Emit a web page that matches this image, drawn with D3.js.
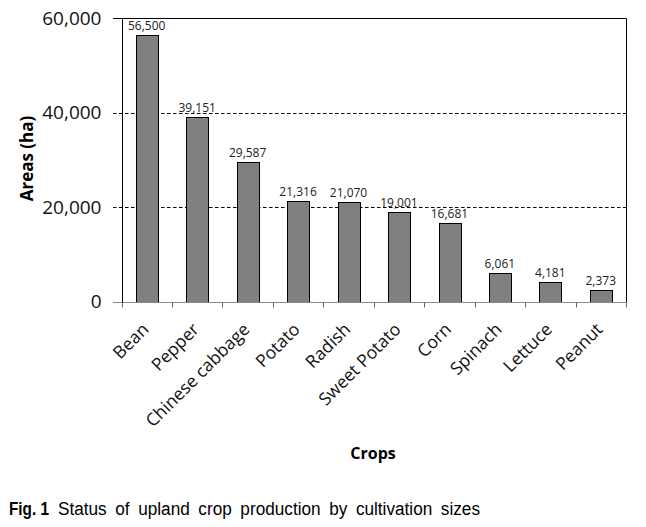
<!DOCTYPE html>
<html><head><meta charset="utf-8">
<script src="https://cdn.jsdelivr.net/npm/d3@7"></script>
<style>body{margin:0;background:#fff}svg{display:block}</style>
</head><body>
<script>
const categories = ["Bean","Pepper","Chinese cabbage","Potato","Radish","Sweet Potato","Corn","Spinach","Lettuce","Peanut"];
const values = [56500,39151,29587,21316,21070,19001,16681,6061,4181,2373];
const yTicks = [0,20000,40000,60000];
const yTitle = "Areas (ha)";
const xTitle = "Crops";
const captionBold = "Fig. 1";
const captionText = "Status of upland crop production by cultivation sizes";

const W=646,H=527;
const m={left:121.5,right:626,top:18,bottom:301.5};
const svg=d3.select("body").append("svg").attr("width",W).attr("height",H);
const font="'Open Sans', sans-serif";
const x=d3.scaleBand().domain(categories).range([m.left,m.right]).paddingInner(0.57).paddingOuter(0.285);
const y=d3.scaleLinear().domain([0,60000]).range([m.bottom,m.top]);
const fmt=d3.format(",");
const yb=Math.round(m.bottom)+0.5;

// gridlines
svg.append("g").selectAll("line").data([20000,40000]).join("line")
  .attr("x1",113).attr("x2",m.right).attr("y1",d=>Math.round(y(d))+0.5).attr("y2",d=>Math.round(y(d))+0.5)
  .attr("stroke","#000").attr("stroke-width",1).attr("stroke-dasharray","3.5,2.5");
// top & right border
svg.append("path").attr("d",`M113,${Math.round(y(60000))+0.5}H${m.right+0.5}V${yb}`).attr("fill","none").attr("stroke","#000").attr("stroke-width",1);

// bars
svg.append("g").selectAll("rect").data(values).join("rect")
  .attr("x",(d,i)=>Math.round(x(categories[i]))+0.5).attr("width",Math.round(x.bandwidth()))
  .attr("y",d=>Math.round(y(d))+0.5).attr("height",d=>Math.round(m.bottom)-Math.round(y(d)))
  .attr("fill","#808080").attr("stroke","#000").attr("stroke-width",1);

// data labels
svg.append("g").selectAll("text").data(values).join("text")
  .attr("x",(d,i)=>x(categories[i])+x.bandwidth()/2).attr("y",d=>y(d)-5)
  .attr("text-anchor","middle").attr("font-family",font).attr("font-size",12).attr("fill","#222")
  .text(d=>fmt(d));

// x axis
const gx=svg.append("g").attr("transform",`translate(0,${yb})`);
gx.append("line").attr("x1",113).attr("x2",m.right+0.5).attr("stroke","#888").attr("stroke-width",1);
gx.selectAll("line.t").data(d3.range(categories.length+1)).join("line").attr("class","t")
  .attr("x1",i=>Math.round(m.left+i*x.step())+0.5)
  .attr("x2",i=>Math.round(m.left+i*x.step())+0.5)
  .attr("y1",0).attr("y2",5).attr("stroke","#666");
gx.selectAll("text").data(categories).join("text")
  .attr("transform",d=>`translate(${x(d)+x.bandwidth()/2+3},28) rotate(-45)`)
  .attr("text-anchor","end").attr("font-family",font).attr("font-size",17.5).attr("fill","#111")
  .text(d=>d);

// y axis
const yAxis=d3.axisLeft(y).tickValues(yTicks).tickSize(0).tickFormat(fmt);
const gy=svg.append("g").attr("transform",`translate(${Math.round(m.left)+0.5},0)`).call(yAxis);
gy.select(".domain").attr("stroke","#000").attr("d",`M0,${m.top}V${yb}`);
gy.selectAll("text").attr("font-family",font).attr("font-size",19).attr("fill","#111").attr("x",-21);

svg.append("text").attr("transform",`translate(33,${158.5}) rotate(-90)`)
  .attr("text-anchor","middle").attr("font-family",font).attr("font-weight","bold").attr("font-size",17).text(yTitle);
svg.append("text").attr("x",373).attr("y",459).attr("text-anchor","middle")
  .attr("font-family",font).attr("font-weight","bold").attr("font-size",16).text(xTitle);

// caption
const capFont="'Liberation Sans', Arial, sans-serif";
svg.append("text").attr("x",9).attr("y",515).attr("font-family",capFont).attr("font-size",18).attr("font-weight","bold")
  .attr("textLength",40).attr("lengthAdjust","spacingAndGlyphs").text(captionBold);
svg.append("text").attr("x",58).attr("y",515).attr("font-family",capFont).attr("font-size",18)
  .attr("textLength",422).attr("lengthAdjust","spacingAndGlyphs").attr("word-spacing",4).text(captionText);
</script>
</body></html>
